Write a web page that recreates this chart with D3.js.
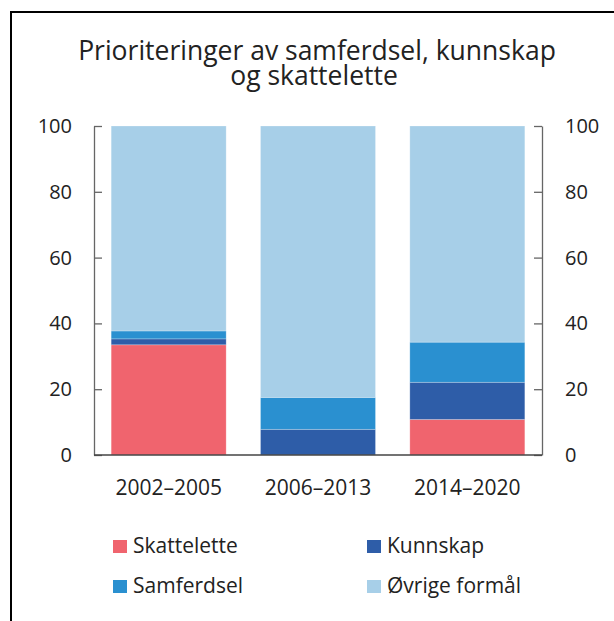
<!DOCTYPE html>
<html>
<head>
<meta charset="utf-8">
<script src="https://cdn.jsdelivr.net/npm/d3@7"></script>
<style>
  html, body { margin: 0; padding: 0; background: #fff; }
  svg text { font-family: "Open Sans", "Noto Sans", sans-serif; fill: #222; }
</style>
</head>
<body>
<svg id="chart" width="614" height="621"></svg>
<script>
const categories = ['2002–2005', '2006–2013', '2014–2020'];
const skattelette = [33.5, 0, 10.8];
const kunnskap = [1.8, 7.8, 11.3];
const samferdsel = [2.4, 9.7, 12.2];
const ovrige = [62.3, 82.5, 65.7];
const seriesNames = ['Skattelette', 'Kunnskap', 'Samferdsel', 'Øvrige formål'];
const seriesColors = ['#f0646e', '#2e5da8', '#2a90d0', '#a7cfe8'];
const yTicks = [0, 20, 40, 60, 80, 100];

const svg = d3.select('#chart');

// border (top + left)
svg.append('line').attr('x1', 10).attr('x2', 614).attr('y1', 12).attr('y2', 12)
  .attr('stroke', '#000').attr('stroke-width', 2);
svg.append('line').attr('x1', 11).attr('x2', 11).attr('y1', 11).attr('y2', 621)
  .attr('stroke', '#000').attr('stroke-width', 2);

// title
const title = svg.append('text').attr('text-anchor', 'middle').style('font-size', '26.5px');
title.append('tspan').attr('x', 317).attr('y', 60).text('Prioriteringer av samferdsel, kunnskap');
title.append('tspan').attr('x', 314).attr('y', 85).text('og skattelette');

const table = categories.map((c, i) => ({
  cat: c,
  Skattelette: skattelette[i],
  Kunnskap: kunnskap[i],
  Samferdsel: samferdsel[i],
  'Øvrige formål': ovrige[i]
}));

const x = d3.scaleBand().domain(categories).range([94, 542])
  .paddingInner(0.23).paddingOuter(0.115);
const y = d3.scaleLinear().domain([0, 100]).range([455, 126]);
const color = d3.scaleOrdinal().domain(seriesNames).range(seriesColors);

const stacked = d3.stack().keys(seriesNames)(table);

svg.append('g')
  .selectAll('g')
  .data(stacked)
  .join('g')
  .attr('fill', d => color(d.key))
  .selectAll('rect')
  .data(d => d)
  .join('rect')
  .attr('x', d => x(d.data.cat))
  .attr('width', x.bandwidth())
  .attr('y', d => y(d[1]))
  .attr('height', d => y(d[0]) - y(d[1]))
  .attr('stroke', 'rgba(255,255,255,0.3)')
  .attr('stroke-width', 0.8);

// y axes
const leftAxis = svg.append('g').attr('transform', 'translate(94,0)')
  .call(d3.axisLeft(y).tickValues(yTicks).tickSize(-8).tickSizeOuter(0).tickPadding(22));
const rightAxis = svg.append('g').attr('transform', 'translate(542,0)')
  .call(d3.axisRight(y).tickValues(yTicks).tickSize(-8).tickSizeOuter(0).tickPadding(23));
[leftAxis, rightAxis].forEach(a => {
  a.select('.domain').attr('stroke', '#666').attr('stroke-width', 1.3);
  a.selectAll('.tick line').attr('stroke', '#666').attr('stroke-width', 1.3);
  a.selectAll('.tick text').style('font-size', '20px').style('font-family', '"Open Sans", sans-serif').attr('fill', '#222');
});

// x axis
const xAxis = svg.append('g').attr('transform', 'translate(0,455)')
  .call(d3.axisBottom(x).tickSize(0).tickPadding(25));
xAxis.select('.domain').attr('stroke', '#444').attr('stroke-width', 1.5)
  .attr('d', 'M94,0H542');
xAxis.selectAll('.tick text').style('font-size', '21px').style('font-family', '"Open Sans", sans-serif').attr('fill', '#222');

// legend
const legendPos = [[113, 540], [367, 540], [113, 580], [367, 580]];
const legend = svg.append('g').selectAll('g').data(seriesNames).join('g')
  .attr('transform', (d, i) => `translate(${legendPos[i][0]},${legendPos[i][1]})`);
legend.append('rect').attr('width', 14).attr('height', 13).attr('fill', d => color(d));
legend.append('text').attr('x', 20).attr('y', 13).style('font-size', '21px').text(d => d);
</script>
</body>
</html>
